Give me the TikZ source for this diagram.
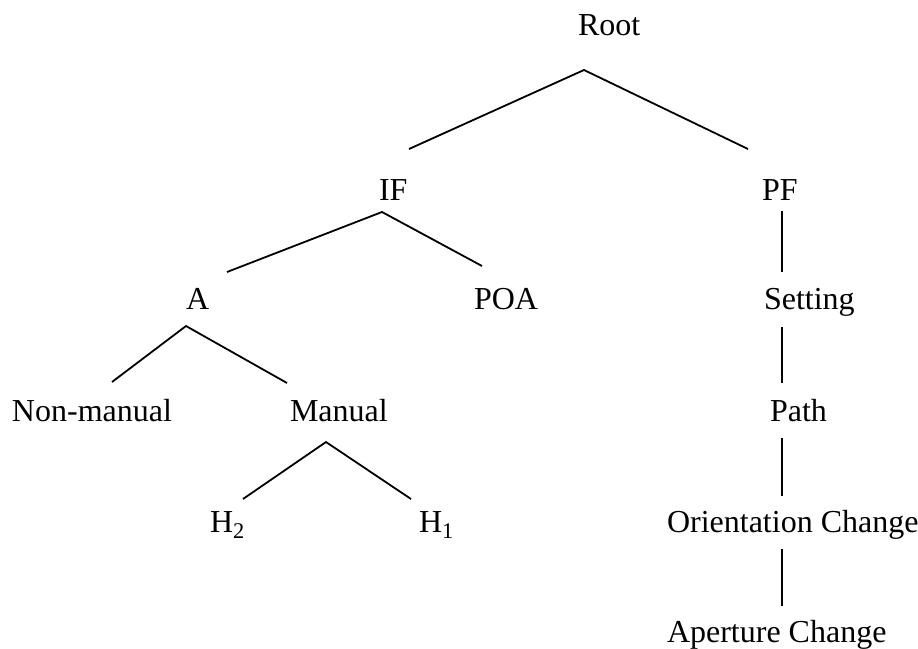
\documentclass[tikz,border=0pt]{standalone}
\usepackage{fontspec}
\setmainfont{Liberation Serif}
\usetikzlibrary{calc}
\tikzset{
  lbl/.style={anchor=base west, inner sep=0pt, outer sep=0pt, font=\fontsize{32}{38}\selectfont},
  edge/.style={line width=1.8pt, line cap=butt}
}
\begin{document}
\begin{tikzpicture}[x=1pt,y=-1pt]
\useasboundingbox (0,0) rectangle (918,648);
% nodes
\node[lbl] (root) at (578,35) {Root};
\node[lbl] (IF) at (379,200) {IF};
\node[lbl] (PF) at (762,200) {PF};
\node[lbl] (A) at (186,309) {A};
\node[lbl] (POA) at (474,309) {POA};
\node[lbl] (set) at (764,309) {Setting};
\node[lbl] (nonman) at (12,421) {Non-manual};
\node[lbl] (man) at (290,421) {Manual};
\node[lbl] (path) at (770,421) {Path};
\node[lbl] (H2) at (210,532) {H\textsubscript{2}};
\node[lbl] (H1) at (419,532) {H\textsubscript{1}};
\node[lbl] (orient) at (667,532) {Orientation Change};
\node[lbl] (aper) at (667,642) {Aperture Change};
% connectors
\draw[edge] ($(IF.base west)+(30,-51)$) -- ($(root.base west)+(6,35)$) -- ($(PF.base west)+(-14,-51)$);
\draw[edge] ($(A.base west)+(41,-37)$) -- ($(IF.base west)+(3,12)$) -- ($(POA.base west)+(8,-43)$);
\draw[edge] ($(nonman.base west)+(100,-39)$) -- ($(A.base west)+(0,17)$) -- ($(man.base west)+(-3,-38)$);
\draw[edge] ($(H2.base west)+(33,-33)$) -- ($(man.base west)+(36,21)$) -- ($(H1.base west)+(-8,-33)$);
\draw[edge] ($(PF.base west)+(20,11)$) -- ($(set.base west)+(18,-37)$);
\draw[edge] ($(set.base west)+(18,18)$) -- ($(path.base west)+(12,-38)$);
\draw[edge] ($(path.base west)+(12,17)$) -- ($(orient.base west)+(115,-36)$);
\draw[edge] ($(orient.base west)+(115,17)$) -- ($(aper.base west)+(115,-36)$);
\end{tikzpicture}
\end{document}
